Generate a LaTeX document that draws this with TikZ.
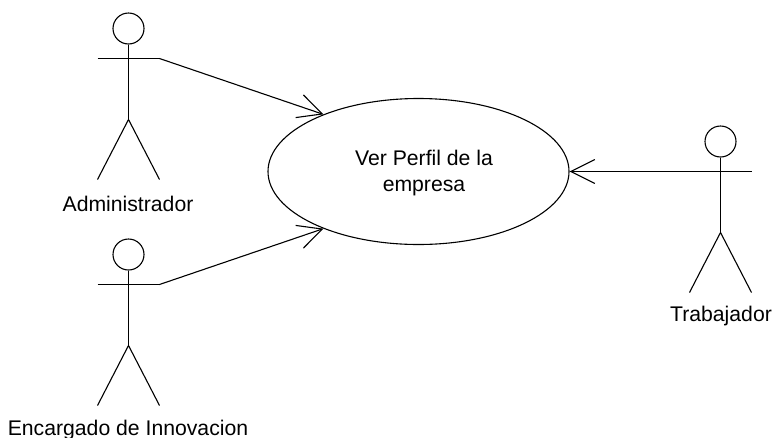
\documentclass[tikz,border=0pt]{standalone}
\usepackage{fontspec}
\setmainfont{Liberation Sans}
\usetikzlibrary{shapes.geometric,arrows.meta}
\tikzset{
  x=1pt,y=-1pt,
  line/.style={line width=1.1pt,black},
  usecase/.style={ellipse,draw,line width=1.1pt,minimum width=301pt,minimum height=146pt,inner sep=0pt},
  headc/.style={circle,draw,line width=1.1pt,minimum size=31pt,inner sep=0pt},
  txt/.style={font=\fontsize{21.2}{26}\selectfont,inner sep=0pt,align=center},
  assoc/.style={line,-{Straight Barb[length=24pt,width=24pt,line width=1.1pt]}},
  pics/actor/.style={code={
    \node[headc] (head) at (0,0) {};
    \coordinate (neck) at (0,15.5);
    \coordinate (hip) at (0,91);
    \coordinate (lhand) at (-31,30);
    \coordinate (rhand) at (31,30);
    \coordinate (lfoot) at (-31,151);
    \coordinate (rfoot) at (31,151);
    \draw[line] (head.south) -- (hip);
    \draw[line] (lhand) -- (rhand);
    \draw[line] (lfoot) -- (hip) -- (rfoot);
  }}
}
\begin{document}
\begin{tikzpicture}
\useasboundingbox (0,0) rectangle (773,437);
\node[usecase] (uc) at (418.5,171.5) {};
\node[txt] (uclabel) at (424,173) {Ver Perfil de la\\empresa};
\pic (a) at (128.5,28.5) {actor};
\pic (e) at (128.5,254.5) {actor};
\pic (t) at (720.5,141.5) {actor};
\node[txt] (alabel) at (128,204) {Administrador};
\node[txt] (elabel) at (128,430) {Encargado de Innovacion};
\node[txt] (tlabel) at (721,316) {Trabajador};
\draw[assoc] (arhand) -- (uc.149);
\draw[assoc] (erhand) -- (uc.211);
\draw[assoc] (trhand) -- (uc.east);
\end{tikzpicture}
\end{document}
